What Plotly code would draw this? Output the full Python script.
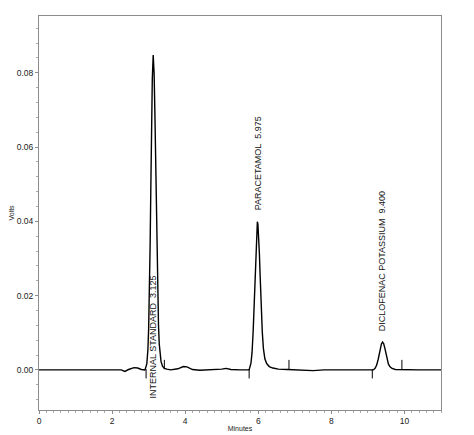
import plotly.graph_objects as go

# chromatogram trace (minutes, volts)
time_min = [
    0.0, 0.5, 1.0, 1.5, 1.8, 2.1, 2.25, 2.35, 2.45, 2.6, 2.7, 2.8, 2.9,
    2.95, 2.98, 3.0, 3.02, 3.04, 3.06, 3.08, 3.1, 3.125,
    3.15, 3.17, 3.19, 3.21, 3.23, 3.25, 3.27, 3.29, 3.31, 3.34, 3.38, 3.43, 3.5,
    3.6, 3.8, 3.95, 4.05, 4.2, 4.4, 4.8, 5.0, 5.12, 5.25, 5.5, 5.75,
    5.8, 5.83, 5.86, 5.88, 5.9, 5.92, 5.94, 5.96, 5.975,
    5.99, 6.01, 6.03, 6.05, 6.07, 6.09, 6.11, 6.14, 6.18, 6.23, 6.3, 6.4, 6.55,
    6.8, 7.2, 7.5, 7.8, 8.2, 8.6, 9.0, 9.15,
    9.2, 9.24, 9.28, 9.31, 9.34, 9.37, 9.4,
    9.43, 9.46, 9.49, 9.52, 9.56, 9.6, 9.66, 9.75,
    10.0, 10.4, 11.0,
]
volts = [
    0.0, 0.0, 0.0, 0.0, 0.0, 0.0001, 0.0, -0.0004, 0.0001, 0.0006, 0.0005, 0.0001, 0.0,
    0.0016, 0.0055, 0.0111, 0.0202, 0.0331, 0.0489, 0.0652, 0.0782, 0.0848,
    0.0798, 0.0698, 0.0564, 0.0422, 0.0293, 0.0188, 0.012, 0.007, 0.0042, 0.0022, 0.001, 0.0004, 0.0002,
    0.0, 0.0003, 0.0009, 0.0008, 0.0001, -0.0001, 0.0, 0.0002, 0.0004, 0.0001, 0.0, 0.0,
    0.0018, 0.0047, 0.0104, 0.0159, 0.0225, 0.0293, 0.0352, 0.039, 0.0399,
    0.0392, 0.0363, 0.0315, 0.0257, 0.0197, 0.0142, 0.0102, 0.0058, 0.003, 0.0017, 0.0009, 0.0005, 0.0002,
    0.0001, 0.0, -0.0002, 0.0, 0.0, -0.0001, 0.0, 0.0,
    0.0005, 0.0013, 0.0028, 0.0043, 0.0058, 0.007, 0.0075,
    0.0071, 0.006, 0.0045, 0.0031, 0.0016, 0.0009, 0.0004, 0.0001,
    0.0, 0.0, 0.0,
]

# peak labels and integration marks
peak_names = ["INTERNAL STANDARD", "PARACETAMOL", "DICLOFENAC POTASSIUM"]
peak_times = [3.125, 5.975, 9.400]
peak_starts = [2.93, 5.75, 9.12]
peak_ends = [3.43, 6.84, 9.93]

fig = go.Figure()
fig.add_trace(go.Scatter(x=time_min, y=volts, mode="lines",
                         line=dict(color="black", width=1.4), hoverinfo="skip"))

# little ticks: down at the start of each peak, up at the end
mx, my = [], []
for s, e in zip(peak_starts, peak_ends):
    mx += [s, s, None, e, e, None]
    my += [0.0002, -0.0023, None, 0.0002, 0.0027, None]
fig.add_trace(go.Scatter(x=mx, y=my, mode="lines",
                         line=dict(color="black", width=1), hoverinfo="skip"))

label_x = [3.11, 6.0, 9.38]
label_y = [-0.0082, 0.0425, 0.0098]
for name, rt, lx, ly in zip(peak_names, peak_times, label_x, label_y):
    fig.add_annotation(x=lx, y=ly, xref="x", yref="y",
                       text=f"{name}\u00a0\u00a0{rt:.3f}", showarrow=False,
                       textangle=-90, xanchor="center", yanchor="bottom",
                       font=dict(family="Liberation Sans", size=9, color="#111"))

axis_col = "#8c8c8c"
# page body adds an 8px margin, so the figure is a bit smaller than the window
fig.update_layout(
    width=466, height=427,
    margin=dict(l=31, r=33, t=8, b=25),
    plot_bgcolor="white", paper_bgcolor="white",
    showlegend=False,
    font=dict(family="Liberation Sans", color="#222"),
    xaxis=dict(range=[0, 11], dtick=2, tick0=0, showgrid=False, zeroline=False,
               automargin=False,
               showline=True, mirror=True, linecolor=axis_col, linewidth=1,
               ticks="outside", ticklen=3, tickcolor=axis_col,
               minor=dict(dtick=0.2, ticks="outside", ticklen=2, tickcolor="#aaa"),
               tickfont=dict(size=8.5, color="#222"),
               title=dict(text="Minutes", font=dict(size=7, color="#222"), standoff=0)),
    yaxis=dict(range=[-0.0108, 0.0953], tickvals=[0, 0.02, 0.04, 0.06, 0.08],
               tickformat=".2f", showgrid=False, zeroline=False,
               automargin=False,
               showline=True, mirror=True, linecolor=axis_col, linewidth=1,
               ticks="outside", ticklen=3, tickcolor=axis_col,
               minor=dict(dtick=0.004, tick0=0, ticks="outside", ticklen=2, tickcolor="#aaa"),
               tickfont=dict(size=8.5, color="#222"),
               title=dict(text="Volts", font=dict(size=7, color="#222"), standoff=4)),
)

fig.write_html("out.html")
